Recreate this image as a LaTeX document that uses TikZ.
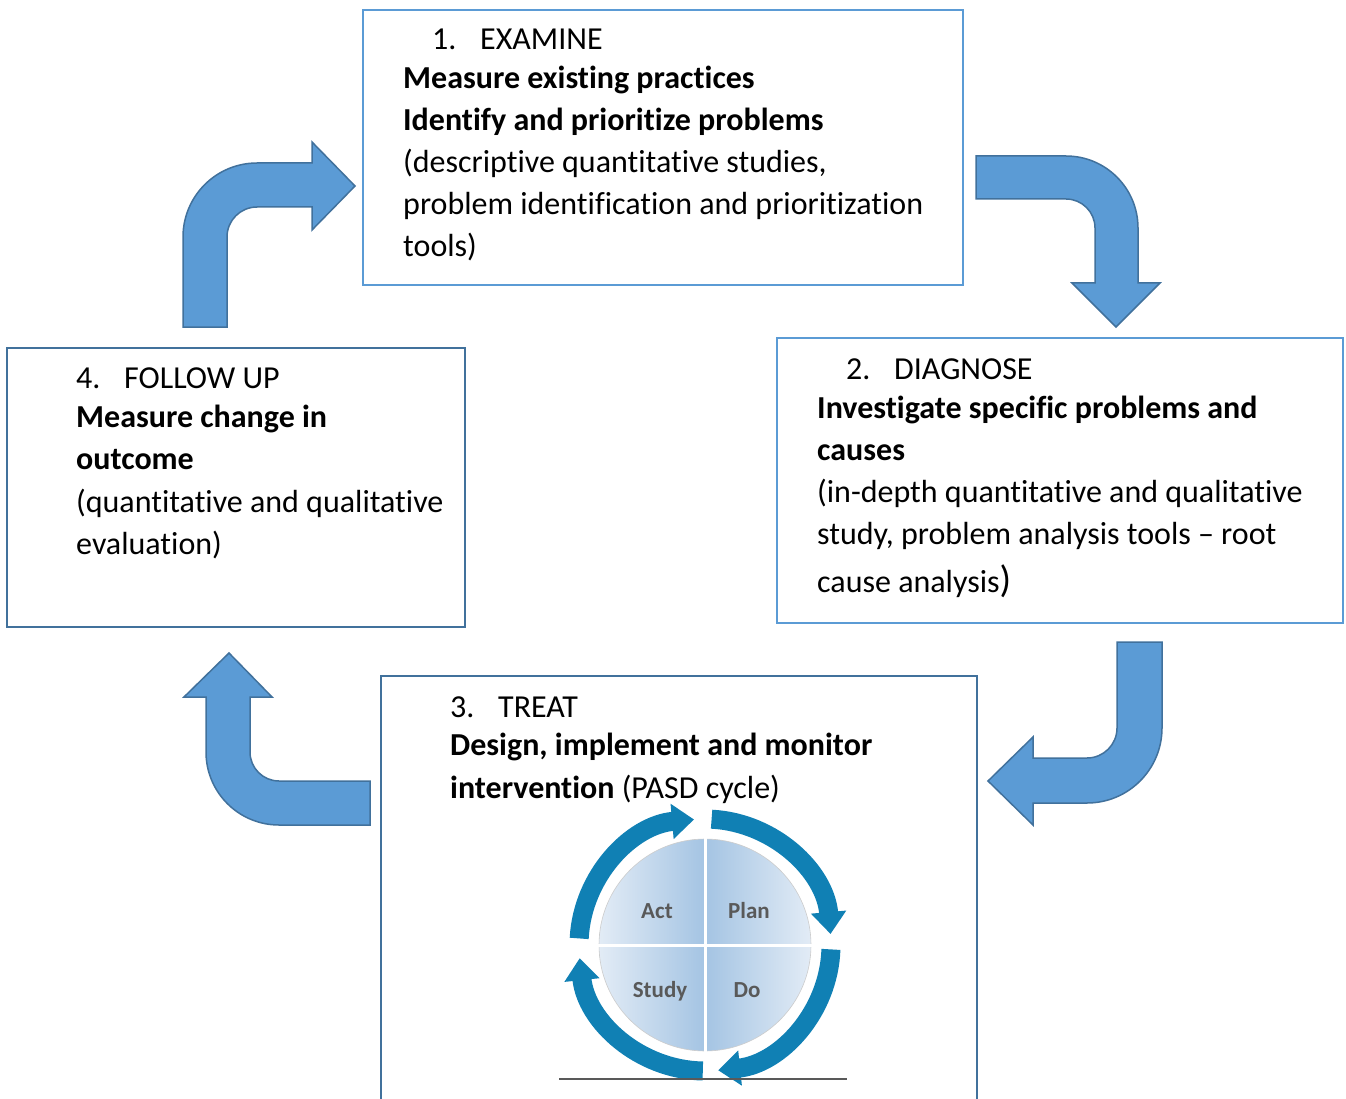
\documentclass[tikz,border=0pt]{standalone}
\usepackage{fontspec}
\setmainfont{Carlito}[Ligatures=NoCommon]
\usetikzlibrary{arrows.meta,calc}
\definecolor{boxlight}{HTML}{5B9BD5}
\definecolor{boxdark}{HTML}{41719C}
\definecolor{arrfill}{HTML}{5B9BD5}
\definecolor{arredge}{HTML}{41719C}
\definecolor{ringc}{RGB}{16,128,180}
\definecolor{qlight}{HTML}{E3ECF6}
\definecolor{qdark}{HTML}{A4C4E3}
\definecolor{qtext}{HTML}{595959}
\begin{document}
\begin{tikzpicture}[x=1pt,y=1pt,
  lightbox/.style={draw=boxlight,line width=2pt,rectangle,inner sep=0pt},
  darkbox/.style={draw=boxdark,line width=1.6pt,rectangle,inner sep=0pt},
  blockarrow/.style={fill=arrfill,draw=arredge,line width=1.5pt,line join=miter},
  txt/.style={anchor=base west,inner sep=0pt,font=\fontsize{32}{38}\selectfont},
  btxt/.style={anchor=base west,inner sep=0pt,font=\fontsize{32}{38}\selectfont\bfseries},
  ringarrow/.style={draw=ringc,line width=19pt,-{Triangle[width=34pt,length=22pt]}},
  qlabel/.style={anchor=base,font=\fontsize{23}{26}\selectfont\bfseries,text=qtext,inner sep=0pt}
]
\useasboundingbox[fill=white] (0,0) rectangle (1346,-1099);

% ---------- boxes ----------
\node[lightbox,minimum width=600pt,minimum height=275pt] (box1) at (663,-147.5) {};
\node[lightbox,minimum width=566pt,minimum height=285pt] (box2) at (1060,-480.5) {};
\node[darkbox,minimum width=458pt,minimum height=279pt] (box4) at (236,-487.5) {};
\coordinate (b3bl) at (381,-1105);
\coordinate (b3tl) at (381,-676);
\coordinate (b3tr) at (977,-676);
\coordinate (b3br) at (977,-1105);
\draw[draw=boxdark,line width=1.6pt] (b3bl) -- (b3tl) -- (b3tr) -- (b3br);

% ---------- block arrows ----------
% 4 -> 1
\draw[blockarrow] (183,-327) -- (183,-237) arc[start angle=180,end angle=90,radius=74]
  -- (312,-163) -- (312,-142) -- (355,-186) -- (312,-230) -- (312,-207)
  -- (257,-207) arc[start angle=90,end angle=180,radius=30] -- (227,-327) -- cycle;
% 1 -> 2
\draw[blockarrow] (976,-156) -- (1066,-156) arc[start angle=90,end angle=0,radius=72]
  -- (1138,-283) -- (1160,-283) -- (1116,-327) -- (1072,-283) -- (1095,-283)
  -- (1095,-228) arc[start angle=0,end angle=90,radius=29] -- (976,-199) -- cycle;
% 2 -> 3
\draw[blockarrow] (1117,-642) -- (1162,-642) -- (1162,-728) arc[start angle=0,end angle=-90,radius=75]
  -- (1033,-803) -- (1033,-825) -- (988,-781) -- (1033,-737) -- (1033,-758)
  -- (1087,-758) arc[start angle=-90,end angle=0,radius=30] -- cycle;
% 3 -> 4
\draw[blockarrow] (370,-781) -- (279,-781) arc[start angle=270,end angle=180,radius=29]
  -- (250,-697) -- (272,-697) -- (229,-653) -- (184,-697) -- (206,-697)
  -- (206,-752) arc[start angle=180,end angle=270,radius=73] -- (370,-825) -- cycle;

% ---------- PDSA circle ----------
\coordinate (pc) at (705,-945);
\begin{scope}
  \clip (pc) circle[radius=106];
  \shade[left color=qlight,right color=qdark] ($(pc)+(-107,107)$) rectangle ($(pc)+(0,-107)$);
  \shade[left color=qdark,right color=qlight] ($(pc)+(0,107)$) rectangle ($(pc)+(107,-107)$);
\end{scope}
\draw[gray!40,line width=0.6pt] (pc) circle[radius=106];
\draw[white,line width=3pt] ($(pc)+(0,108)$) -- ($(pc)+(0,-108)$);
\draw[white,line width=3pt] ($(pc)+(-108,0)$) -- ($(pc)+(108,0)$);
\node[qlabel] (act) at (657,-918) {Act};
\node[qlabel] (plan) at (749,-918) {Plan};
\node[qlabel] (study) at (660,-997) {Study};
\node[qlabel] (do) at (747,-997) {Do};

\draw[ringarrow] ($(pc)+(177:126)$) arc[start angle=177,end angle=95,radius=126];
\draw[ringarrow] ($(pc)+(87:126)$) arc[start angle=87,end angle=5,radius=126];
\draw[ringarrow] ($(pc)+(-2:126)$) arc[start angle=-2,end angle=-84,radius=126];
\draw[ringarrow] ($(pc)+(-91:126)$) arc[start angle=-91,end angle=-174,radius=126];

\coordinate (ul) at (559,-1079);
\coordinate (ur) at (847,-1079);
\draw[qtext,line width=1.3pt] (ul) -- (ur);

% ---------- texts ----------
\node[txt] (e1n) at (432,-50) {1.};
\node[txt] (e1h) at (480,-50) {EXAMINE};
\node[btxt] (e1a) at (403,-89) {Measure existing practices};
\node[btxt] (e1b) at (403,-131) {Identify and prioritize problems};
\node[txt] (e1c) at (403,-173) {(descriptive quantitative studies,};
\node[txt] (e1d) at (403,-215) {problem identification and prioritization};
\node[txt] (e1e) at (403,-257) {tools)};

\node[txt] (d2n) at (846,-379) {2.};
\node[txt] (d2h) at (894,-379) {DIAGNOSE};
\node[btxt] (d2a) at (817,-418) {Investigate specific problems and};
\node[btxt] (d2b) at (817,-460) {causes};
\node[txt] (d2c) at (817,-502) {(in-depth quantitative and qualitative};
\node[txt] (d2d) at (817,-544) {study, problem analysis tools – root};
\node[txt] (d2e) at (817,-592) {cause analysis{\fontsize{38}{42}\selectfont)}};

\node[txt] (t3n) at (450,-717) {3.};
\node[txt] (t3h) at (498,-717) {TREAT};
\node[btxt] (t3a) at (450,-755) {Design, implement and monitor};
\node[txt] (t3b) at (450,-798) {\textbf{intervention} (PASD cycle)};

\node[txt] (f4n) at (76,-388) {4.};
\node[txt] (f4h) at (124,-388) {FOLLOW UP};
\node[btxt] (f4a) at (76,-427) {Measure change in};
\node[btxt] (f4b) at (76,-469) {outcome};
\node[txt] (f4c) at (76,-512) {(quantitative and qualitative};
\node[txt] (f4d) at (76,-554) {evaluation)};
\end{tikzpicture}
\end{document}
